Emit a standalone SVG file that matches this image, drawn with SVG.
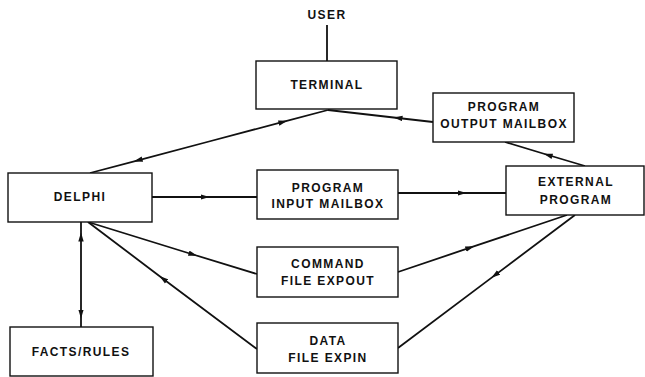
<svg xmlns="http://www.w3.org/2000/svg" width="645" height="377" viewBox="0 0 645 377">
<style>
.box{fill:#fff;stroke:#111;stroke-width:1.4}
.t{font-family:"Liberation Sans",Arial,sans-serif;font-weight:bold;font-size:12px;letter-spacing:1.4px;fill:#111;text-anchor:middle}
.c{fill:none;stroke:#111;stroke-width:1.8;marker-mid:url(#ah)}
.p{fill:none;stroke:#111;stroke-width:1.8}
</style>
<defs>
<marker id="ah" viewBox="0 0 10 6" refX="5" refY="3" markerWidth="9" markerHeight="6" markerUnits="userSpaceOnUse" orient="auto">
<path d="M0,0 L10,3 L0,6 z" fill="#111"/>
</marker>
</defs>
<rect width="645" height="377" fill="#fff"/>
<g id="connectors">
<path class="p" d="M327,25 L327,61"/>
<path class="c" d="M209,141.5 L283,121.9 L328,110"/>
<path class="c" d="M209,141.5 L138,160.3 L90,173"/>
<path class="c" d="M433,122 L398,118 L328,110"/>
<path class="c" d="M585,166 L548,155 L505,142"/>
<path class="c" d="M152,197 L205,197 L257,197"/>
<path class="c" d="M398,193 L462,193 L506,193"/>
<path class="c" d="M81,275 L81,237 L81,222"/>
<path class="c" d="M81,275 L81,314 L81,327"/>
<path class="c" d="M88,222 L193,254.5 L257,274"/>
<path class="c" d="M257,349 L163,278.7 L88,222"/>
<path class="c" d="M398,272 L470,247.7 L567,215"/>
<path class="c" d="M575,215 L495,275.1 L398,348"/>
</g>
<g id="user"><text class="t" x="327" y="19">USER</text></g>
<g id="terminal"><rect class="box" x="256" y="61" width="141" height="48"/><text class="t" x="327" y="88.5">TERMINAL</text></g>
<g id="output-mailbox"><rect class="box" x="433" y="93" width="141" height="49"/><text class="t" x="504" y="110.5">PROGRAM</text><text class="t" x="504" y="127.5">OUTPUT MAILBOX</text></g>
<g id="delphi"><rect class="box" x="8" y="173" width="144" height="49"/><text class="t" x="80" y="201">DELPHI</text></g>
<g id="input-mailbox"><rect class="box" x="257" y="170" width="141" height="49"/><text class="t" x="328" y="191.5">PROGRAM</text><text class="t" x="328" y="207.5">INPUT MAILBOX</text></g>
<g id="external-program"><rect class="box" x="506" y="166" width="138" height="49"/><text class="t" x="576" y="186">EXTERNAL</text><text class="t" x="576" y="204">PROGRAM</text></g>
<g id="command-file"><rect class="box" x="257" y="247" width="141" height="50"/><text class="t" x="328" y="268">COMMAND</text><text class="t" x="328" y="285">FILE EXPOUT</text></g>
<g id="data-file"><rect class="box" x="257" y="323" width="141" height="50"/><text class="t" x="328" y="345">DATA</text><text class="t" x="328" y="362">FILE EXPIN</text></g>
<g id="facts-rules"><rect class="box" x="10" y="327" width="143" height="49"/><text class="t" x="81" y="355.5">FACTS/RULES</text></g>
</svg>
